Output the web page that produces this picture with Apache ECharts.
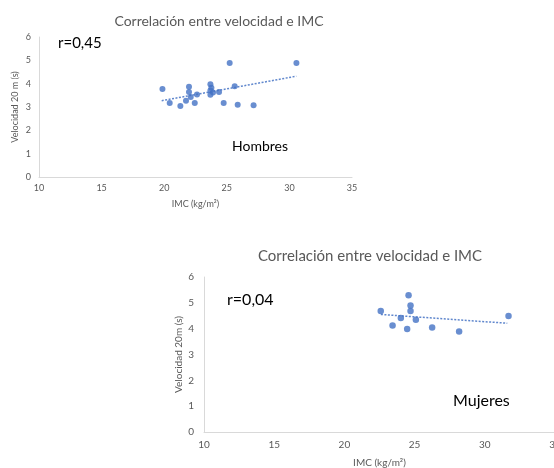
<!DOCTYPE html>
<html>
<head>
<meta charset="utf-8">
<script src="https://cdn.jsdelivr.net/npm/echarts@6/dist/echarts.min.js"></script>
<style>
  html, body { margin: 0; padding: 0; background: #fff; }
  #chart { width: 554px; height: 468px; }
</style>
</head>
<body>
<div id="chart"></div>
<script>
// Men: BMI (kg/m²) and 20 m sprint time (s)
const menIMC = [19.86, 20.44, 21.29, 21.74, 21.98, 21.98, 22.12, 22.44, 22.62, 23.69, 23.77, 23.69, 23.69, 23.90, 24.38, 24.75, 25.23, 25.63, 25.87, 27.14, 30.56];
const menVel = [3.77, 3.17, 3.04, 3.27, 3.87, 3.64, 3.43, 3.17, 3.54, 3.98, 3.83, 3.71, 3.53, 3.62, 3.64, 3.17, 4.89, 3.89, 3.10, 3.07, 4.89];
// Linear trend endpoints for men
const menTrendIMC = [19.8, 30.55];
const menTrendVel = [3.27, 4.32];

// Women: BMI (kg/m²) and 20 m sprint time (s)
const womenIMC = [22.59, 23.43, 24.02, 24.47, 24.57, 24.71, 24.71, 25.09, 26.25, 28.17, 31.69];
const womenVel = [4.68, 4.12, 4.41, 3.99, 5.29, 4.90, 4.68, 4.35, 4.05, 3.89, 4.49];
// Linear trend endpoints for women
const womenTrendIMC = [22.6, 31.6];
const womenTrendVel = [4.55, 4.21];

const xTicks = { min: 10, max: 35, interval: 5 };
const yTicks = { min: 0, max: 6, interval: 1 };

const titleText = 'Correlación entre velocidad e IMC';
const corrMen = 'r=0,45';
const corrWomen = 'r=0,04';
const groupMen = 'Hombres';
const groupWomen = 'Mujeres';
const xName = 'IMC (kg/m²)';
const yNameMen = 'Velocidad 20 m (s)';
const yNameWomen = 'Velocidad 20m (s)';

const pairs = (xs, ys) => xs.map((x, i) => [x, ys[i]]);

const FONT = 'Lato, "Liberation Sans", sans-serif';
const GREY = '#595959';
const AXIS = '#d9d9d9';
const BLUE = '#4472C4';

function xAxis(idx, fs, gap, margin) {
  return {
    type: 'value', gridIndex: idx,
    min: xTicks.min, max: xTicks.max, interval: xTicks.interval,
    name: xName, nameLocation: 'middle', nameGap: gap, nameMoveOverlap: false,
    nameTextStyle: { color: GREY, fontSize: fs, fontFamily: FONT },
    axisLine: { show: true, lineStyle: { color: AXIS, width: 1 } },
    axisTick: { show: false },
    splitLine: { show: false },
    axisLabel: { color: GREY, fontSize: fs, fontFamily: FONT, margin: margin }
  };
}
function yAxis(idx, name, fs, gap, margin) {
  return {
    type: 'value', gridIndex: idx,
    min: yTicks.min, max: yTicks.max, interval: yTicks.interval,
    name: name, nameLocation: 'middle', nameGap: gap, nameRotate: 90, nameMoveOverlap: false,
    nameTextStyle: { color: GREY, fontSize: fs, fontFamily: FONT },
    axisLine: { show: true, lineStyle: { color: AXIS, width: 1 } },
    axisTick: { show: false },
    splitLine: { show: false },
    axisLabel: { color: GREY, fontSize: fs, fontFamily: FONT, margin: margin }
  };
}

const chart = echarts.init(document.getElementById('chart'), null, { renderer: 'canvas' });
chart.setOption({
  animation: false,
  backgroundColor: '#ffffff',
  title: [
    { text: titleText, left: 214, top: 9, textAlign: 'center',
      textStyle: { color: GREY, fontSize: 14, fontWeight: 'normal', fontFamily: FONT } },
    { text: titleText, left: 365, top: 244, textAlign: 'center',
      textStyle: { color: GREY, fontSize: 15, fontWeight: 'normal', fontFamily: FONT } }
  ],
  grid: [
    { left: 39, top: 37, width: 313, height: 140, outerBoundsMode: 'none', containLabel: false },
    { left: 204, top: 277, width: 351, height: 155, outerBoundsMode: 'none', containLabel: false }
  ],
  xAxis: [ xAxis(0, 9, 23, 7), xAxis(1, 10, 26, 8) ],
  yAxis: [ yAxis(0, yNameMen, 9, 19, 8), yAxis(1, yNameWomen, 10, 20, 10) ],
  graphic: [
    { type: 'text', left: 58, top: 36,
      style: { text: corrMen, fill: '#000', font: '15px ' + FONT } },
    { type: 'text', left: 232, top: 139,
      style: { text: groupMen, fill: '#000', font: '14px ' + FONT } },
    { type: 'text', left: 227, top: 292,
      style: { text: corrWomen, fill: '#000', font: '16px ' + FONT } },
    { type: 'text', left: 453, top: 393,
      style: { text: groupWomen, fill: '#000', font: '16px ' + FONT } }
  ],
  series: [
    { type: 'line', xAxisIndex: 0, yAxisIndex: 0, data: pairs(menTrendIMC, menTrendVel),
      symbol: 'none', lineStyle: { color: BLUE, width: 1.5, type: [2, 1.5], opacity: 0.85 }, z: 2 },
    { type: 'scatter', xAxisIndex: 0, yAxisIndex: 0, data: pairs(menIMC, menVel),
      symbol: 'circle', symbolSize: 6, itemStyle: { color: BLUE }, z: 3 },
    { type: 'line', xAxisIndex: 1, yAxisIndex: 1, data: pairs(womenTrendIMC, womenTrendVel),
      symbol: 'none', lineStyle: { color: BLUE, width: 1.5, type: [2, 1.5], opacity: 0.85 }, z: 2 },
    { type: 'scatter', xAxisIndex: 1, yAxisIndex: 1, data: pairs(womenIMC, womenVel),
      symbol: 'circle', symbolSize: 6.5, itemStyle: { color: BLUE }, z: 3 }
  ]
});
</script>
</body>
</html>
